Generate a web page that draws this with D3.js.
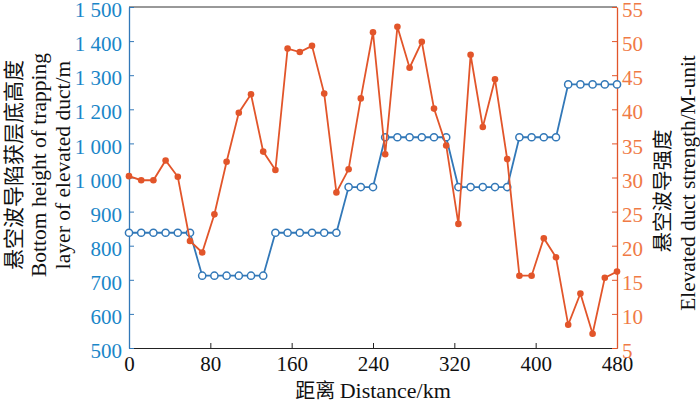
<!DOCTYPE html>
<html>
<head>
<meta charset="utf-8">
<script src="https://cdn.jsdelivr.net/npm/d3@7"></script>
<style>
  body { margin: 0; background: #fff; }
  svg text { font-family: "Liberation Serif", "Times New Roman", serif; }
  svg text.cjk, svg tspan.cjk { font-family: "Noto Sans CJK SC", sans-serif; }
</style>
</head>
<body>
<svg id="chart" width="700" height="405"></svg>
<script>
// distance along path, km (every 12 km)
var distance = d3.range(0, 481, 12);

// bottom height of trapping layer, m
var bottomHeight = [
  838, 838, 838, 838, 838, 838,
  712, 712, 712, 712, 712, 712,
  838, 838, 838, 838, 838, 838,
  972, 972, 972,
  1118, 1118, 1118, 1118, 1118, 1118,
  972, 972, 972, 972, 972,
  1118, 1118, 1118, 1118,
  1273, 1273, 1273, 1273, 1273
];

// elevated duct strength, M-unit
var ductStrength = [
  30.2, 29.6, 29.6, 32.5, 30.1, 20.7, 19.0, 24.6, 32.3, 39.5,
  42.2, 33.8, 31.1, 48.9, 48.4, 49.3, 42.3, 27.8, 31.2, 41.6,
  51.3, 33.4, 52.1, 46.1, 49.9, 40.1, 34.7, 23.2, 48.0, 37.4,
  44.4, 32.7, 15.6, 15.6, 21.1, 18.3, 8.4, 13.0, 7.1, 15.3,
  16.2
];

var xTicks = [0, 80, 160, 240, 320, 400, 480];
var leftTicks = [500, 600, 700, 800, 900, 1000, 1100, 1200, 1300, 1400, 1500];
var leftTickLabels = ["500", "600", "700", "800", "900", "1 000", "1 000", "1 200", "1 300", "1 400", "1 500"];
var rightTicks = [5, 10, 15, 20, 25, 30, 35, 40, 45, 50, 55];

var blue = "#3278b8", blueText = "#1a86c8";
var orange = "#e2552a", orangeText = "#f07a45";
var serif = "'Liberation Serif', 'Times New Roman', serif";

var m = { left: 129, right: 617, top: 7, bottom: 348 };
var svg = d3.select("#chart");

var x = d3.scaleLinear().domain([0, 480]).range([m.left, m.right]);
var yL = d3.scaleLinear().domain([500, 1500]).range([m.bottom, m.top]);
var yR = d3.scaleLinear().domain([5, 55]).range([m.bottom, m.top]);

// top frame line
svg.append("line")
  .attr("x1", m.left).attr("x2", m.right)
  .attr("y1", m.top).attr("y2", m.top)
  .attr("stroke", "#333").attr("stroke-width", 1);

// bottom axis
var gx = svg.append("g")
  .attr("transform", "translate(0," + m.bottom + ")")
  .call(d3.axisBottom(x).tickValues(xTicks).tickSizeInner(-5).tickSizeOuter(0).tickPadding(8));
gx.attr("font-family", serif);
gx.select(".domain").attr("stroke", "#222");
gx.selectAll(".tick line").attr("stroke", "#222");
gx.selectAll(".tick text").attr("fill", "#111")
  .style("font-family", serif).style("font-size", "21px");

// left axis
var gl = svg.append("g")
  .attr("transform", "translate(" + m.left + ",0)")
  .call(d3.axisLeft(yL).tickValues(leftTicks)
    .tickFormat(function(d, i) { return leftTickLabels[i]; })
    .tickSizeInner(-5).tickSizeOuter(0).tickPadding(7));
gl.attr("font-family", serif);
gl.select(".domain").attr("stroke", blue).attr("stroke-width", 1.3);
gl.selectAll(".tick line").attr("stroke", blue);
gl.selectAll(".tick text").attr("fill", blueText).attr("dy", "0.46em")
  .style("font-family", serif).style("font-size", "21px");

// right axis
var gr = svg.append("g")
  .attr("transform", "translate(" + m.right + ",0)")
  .call(d3.axisRight(yR).tickValues(rightTicks).tickSizeInner(-5).tickSizeOuter(0).tickPadding(5));
gr.attr("font-family", serif);
gr.select(".domain").attr("stroke", orange).attr("stroke-width", 1.3);
gr.selectAll(".tick line").attr("stroke", orange);
gr.selectAll(".tick text").attr("fill", orangeText).attr("dy", "0.46em")
  .style("font-family", serif).style("font-size", "21px");

// blue series: bottom height
var blueLine = d3.line()
  .x(function(d, i) { return x(distance[i]); })
  .y(function(d) { return yL(d); });
svg.append("path").datum(bottomHeight)
  .attr("d", blueLine).attr("fill", "none")
  .attr("stroke", blue).attr("stroke-width", 1.8);
svg.selectAll(".bdot").data(bottomHeight).enter().append("circle")
  .attr("class", "bdot")
  .attr("cx", function(d, i) { return x(distance[i]); })
  .attr("cy", function(d) { return yL(d); })
  .attr("r", 3.6).attr("fill", "#fff")
  .attr("stroke", blue).attr("stroke-width", 1.5);

// orange series: duct strength
var orangeLine = d3.line()
  .x(function(d, i) { return x(distance[i]); })
  .y(function(d) { return yR(d); });
svg.append("path").datum(ductStrength)
  .attr("d", orangeLine).attr("fill", "none")
  .attr("stroke", orange).attr("stroke-width", 1.8);
svg.selectAll(".odot").data(ductStrength).enter().append("circle")
  .attr("class", "odot")
  .attr("cx", function(d, i) { return x(distance[i]); })
  .attr("cy", function(d) { return yR(d); })
  .attr("r", 3.3).attr("fill", orange);

// x title
var xt = svg.append("text")
  .attr("x", (m.left + m.right) / 2).attr("y", 398)
  .attr("text-anchor", "middle").attr("fill", "#111").style("font-size", "22px");
xt.append("tspan").attr("class", "cjk").style("font-size", "20px").text("距离 ");
xt.append("tspan").text("Distance/km");

// left title
var lt = svg.append("g").attr("transform", "translate(0,165) rotate(-90)");
lt.append("text").attr("class", "cjk").attr("x", 0).attr("y", 21)
  .attr("text-anchor", "middle").attr("fill", "#111").style("font-size", "21px")
  .text("悬空波导陷获层底高度");
lt.append("text").attr("x", 0).attr("y", 46)
  .attr("text-anchor", "middle").attr("fill", "#111").style("font-size", "21.5px")
  .text("Bottom height of trapping");
lt.append("text").attr("x", 0).attr("y", 70)
  .attr("text-anchor", "middle").attr("fill", "#111").style("font-size", "21.5px")
  .text("layer of elevated duct/m");

// right title
svg.append("text").attr("class", "cjk")
  .attr("transform", "translate(670,191) rotate(-90)")
  .attr("text-anchor", "middle").attr("fill", "#111").style("font-size", "20.5px")
  .text("悬空波导强度");
svg.append("text")
  .attr("transform", "translate(695,183) rotate(-90)")
  .attr("text-anchor", "middle").attr("fill", "#111").style("font-size", "21.3px")
  .text("Elevated duct strength/M-unit");
</script>
</body>
</html>
